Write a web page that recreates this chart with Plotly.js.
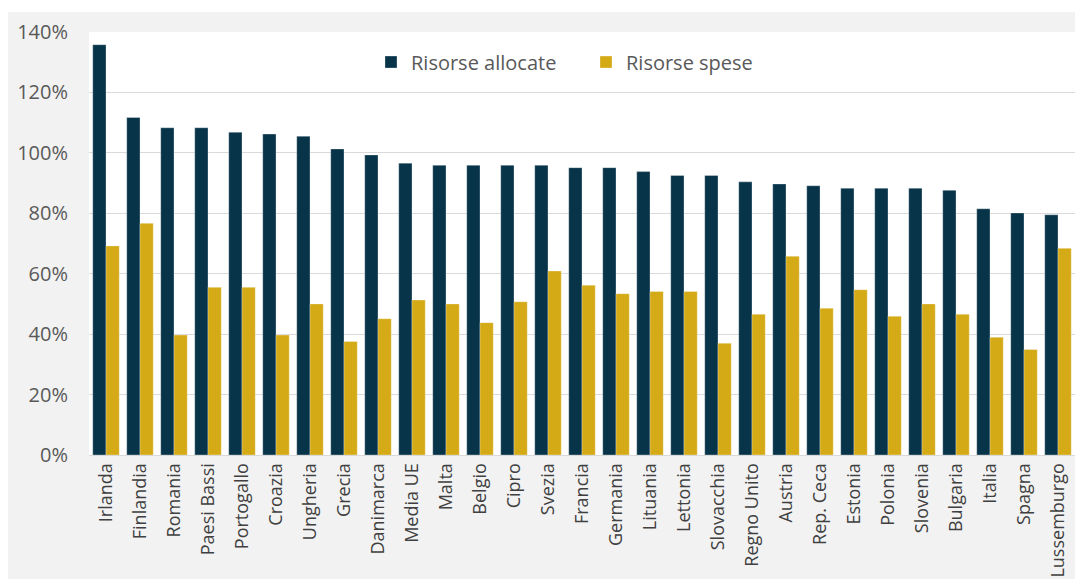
<!DOCTYPE html>
<html>
<head>
<meta charset="utf-8">
<script src="https://cdn.plot.ly/plotly-3.0.1.min.js"></script>
<style>
  html, body { margin: 0; padding: 0; background: #ffffff; }
  #chart { position: absolute; left: 8px; top: 12px; width: 1067px; height: 567px; }
</style>
</head>
<body>
<div id="chart"></div>
<script>
const categories = ["Irlanda","Finlandia","Romania","Paesi Bassi","Portogallo","Croazia","Ungheria","Grecia","Danimarca","Media UE","Malta","Belgio","Cipro","Svezia","Francia","Germania","Lituania","Lettonia","Slovacchia","Regno Unito","Austria","Rep. Ceca","Estonia","Polonia","Slovenia","Bulgaria","Italia","Spagna","Lussemburgo"];
const risorseAllocate = [135.8,111.7,108.3,108.3,106.8,106.2,105.5,101.3,99.3,96.6,95.9,95.9,95.9,95.9,95.1,95.1,93.8,92.5,92.5,90.4,89.7,89.1,88.3,88.3,88.3,87.6,81.5,80.1,79.5];
const risorseSpese = [69.2,76.7,39.7,55.5,55.5,39.7,50.0,37.6,45.1,51.3,50.0,43.8,50.7,60.9,56.2,53.4,54.1,54.1,37.0,46.6,65.8,48.6,54.7,45.9,50.0,46.6,39.0,34.9,68.4];
const yTickVals = [0,20,40,60,80,100,120,140];
const yTickText = ["0%","20%","40%","60%","80%","100%","120%","140%"];
const seriesNames = ["Risorse allocate","Risorse spese"];

const fontFam = "Open Sans, Noto Sans, sans-serif";
const traces = [
  {type:"bar", name: seriesNames[0], x: categories, y: risorseAllocate,
   marker:{color:"#08344a", line:{color:"rgba(255,255,255,0.5)", width:0.6}}, hoverinfo:"x+y"},
  {type:"bar", name: seriesNames[1], x: categories, y: risorseSpese,
   marker:{color:"#d4aa17", line:{color:"rgba(255,255,255,0.5)", width:0.6}}, hoverinfo:"x+y"}
];
const layout = {
  width: 1067, height: 567,
  paper_bgcolor: "#f2f2f2",
  plot_bgcolor: "#ffffff",
  margin: {l: 81, r: 0, t: 20, b: 124, pad: 0},
  barmode: "group",
  bargap: 0.22,
  bargroupgap: 0,
  showlegend: true,
  legend: {orientation: "h", x: 0.286, y: 0.929, xanchor: "left", yanchor: "middle",
           bgcolor: "rgba(0,0,0,0)", font: {family: fontFam, size: 20, color: "#595959"},
           itemwidth: 30, entrywidth: 170, entrywidthmode: "pixels", traceorder: "normal"},
  xaxis: {type: "category", tickangle: -90, tickfont: {family: fontFam, size: 18, color: "#404040"},
          showgrid: false, showline: true, linecolor: "#d9d9d9", linewidth: 1, ticks: "", automargin: false},
  yaxis: {range: [0, 140], tickvals: yTickVals, ticktext: yTickText, showgrid: true,
          gridcolor: "#d9d9d9", gridwidth: 1, zeroline: false, showline: false, ticks: "",
          tickfont: {family: fontFam, size: 20, color: "#595959"}, ticklabelstandoff: 20, automargin: false},
  font: {family: fontFam}
};
Plotly.newPlot("chart", traces, layout, {displayModeBar: false, staticPlot: true});
</script>
</body>
</html>
